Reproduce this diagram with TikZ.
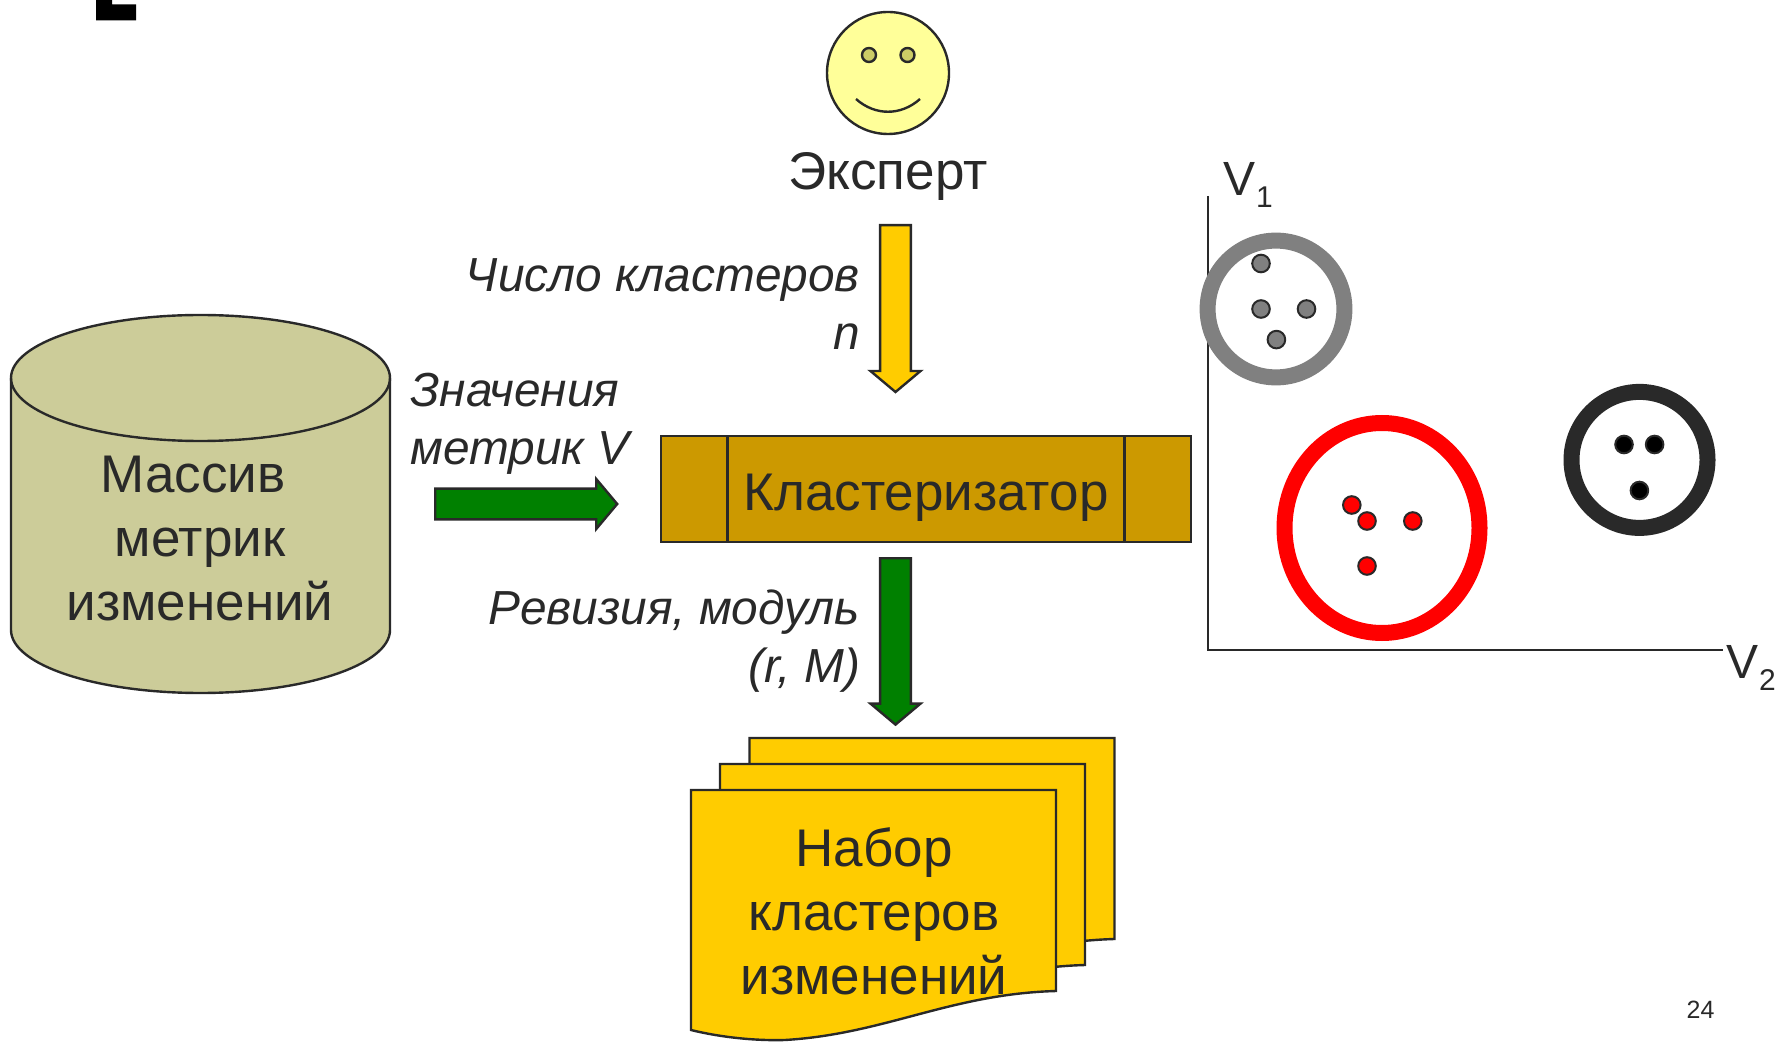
\documentclass[tikz,border=0pt]{standalone}
\usepackage{fontspec}
\setmainfont{Liberation Sans}
\usetikzlibrary{shapes.geometric,shapes.arrows}
\definecolor{inkdark}{RGB}{41,41,41}
\definecolor{dbolive}{RGB}{204,204,153}
\definecolor{faceyellow}{RGB}{255,255,153}
\definecolor{eyeolive}{RGB}{204,204,102}
\definecolor{boxbrown}{RGB}{204,153,0}
\definecolor{sheetyellow}{RGB}{255,204,0}
\definecolor{arrowgreen}{RGB}{0,128,0}
\definecolor{ringgray}{RGB}{128,128,128}
\newcommand{\sheetpath}{(691,790) -- (1056,790) -- (1056,991) .. controls (950,994) and (885,1034) .. (785,1040) .. controls (750,1041) and (715,1036) .. (691,1030) -- cycle}
\begin{document}
\begin{tikzpicture}[x=0.5pt,y=-0.5pt,
    every node/.style={text=inkdark,font=\fontsize{26.5}{32}\selectfont},
    outline/.style={draw=inkdark,line width=1.2pt},
    sheet/.style={outline,fill=sheetyellow},
    label/.style={font=\fontsize{23.9}{29}\selectfont\itshape},
    blockarrow/.style={outline,single arrow,anchor=tail,inner xsep=0pt,inner ysep=6.8pt,single arrow head indent=0pt,
        minimum width=25pt,single arrow head extend=4.6pt,single arrow tip angle=100,fill=#1},
    ring/.style={ellipse,draw=#1,line width=8pt,inner sep=0pt},
    dot/.style={circle,draw=inkdark,line width=1pt,inner sep=0pt,minimum size=8.8pt,fill=#1},
    axislabel/.style={font=\fontsize{24}{28}\selectfont,anchor=base west}]

    \useasboundingbox (0,0) rectangle (1787,1042);

    % Corner mark cut by the page
    \fill[black] (96,0) -- (112,0) -- (112,4.5) -- (136,4.5) -- (136,20.5) -- (96,20.5) -- cycle;

    % Expert
    \node[ellipse,outline,fill=faceyellow,minimum width=61pt,minimum height=61pt,inner sep=0pt] (face) at (888,73) {};
    \node[ellipse,outline,fill=eyeolive,minimum size=7pt,inner sep=0pt] (eyeL) at (869,55) {};
    \node[ellipse,outline,fill=eyeolive,minimum size=7pt,inner sep=0pt] (eyeR) at (907.5,55) {};
    \draw[outline] (856,99) .. controls (875,116) and (901,116) .. (920,99);
    \node[anchor=base] (expert) at (888,190) {Эксперт};

    % Metric store
    \draw[outline,fill=dbolive] (11,378) arc[start angle=180,end angle=360,x radius=189.5,y radius=63]
        -- (390,630) arc[start angle=0,end angle=180,x radius=189.5,y radius=63] -- cycle;
    \draw[outline] (11,378) arc[start angle=180,end angle=0,x radius=189.5,y radius=63];
    \node[align=center] (storetext) at (200,539) {Массив\kern7pt\\метрик\\изменений};

    % Clusterer
    \node[outline,fill=boxbrown,minimum width=265pt,minimum height=53pt,inner sep=0pt] (clust) at (926,489) {};
    \node[anchor=base] (clusttext) at (926,510) {Кластеризатор};
    \draw[outline] (727.6,436) -- (727.6,542);
    \draw[outline] (1124.6,436) -- (1124.6,542);

    % Block arrows and their labels
    \node[blockarrow=sheetyellow,rotate=-90,minimum height=83.4pt] (numarrow) at (895.5,224) {};
    \node[blockarrow=arrowgreen,minimum height=91pt] (valarrow) at (434,504) {};
    \node[blockarrow=arrowgreen,rotate=-90,minimum height=83.2pt] (revarrow) at (895.5,557) {};
    \node[label,align=right,anchor=north east] (numtext) at (867,252) {Число кластеров\\n};
    \node[label,align=left,anchor=north west] (valtext) at (403.5,366.5) {Значения\\метрик V};
    \node[label,align=right,anchor=north east] (revtext) at (867,583) {Ревизия, модуль\\(r, M)};

    % Cluster sheets
    \draw[sheet,shift={(58.5,-52)}] \sheetpath;
    \draw[sheet,shift={(29,-26)}] \sheetpath;
    \draw[sheet] \sheetpath;
    \node[align=center] (sheettext) at (874,911) {Набор\\кластеров\\изменений};

    % Axes
    \coordinate (origin) at (1208,650);
    \coordinate (v1end) at (1208,196);
    \coordinate (v2end) at (1723,650);
    \draw[draw=inkdark,line width=1.3pt] (v1end) -- (origin) -- (v2end);
    \node[axislabel] (v1) at (1216,196) {V\raisebox{-6pt}{\fontsize{15}{15}\selectfont\kern0.5pt 1}};
    \node[axislabel] (v2) at (1719,678) {V\raisebox{-6pt}{\fontsize{15}{15}\selectfont\kern0.5pt 2}};

    % Clusters
    \node[ring=ringgray,minimum width=68.4pt,minimum height=68.4pt] (rgray) at (1276,309) {};
    \node[dot=ringgray] (g1) at (1261,263.5) {};
    \node[dot=ringgray] (g2) at (1261,309) {};
    \node[dot=ringgray] (g3) at (1306.5,309) {};
    \node[dot=ringgray] (g4) at (1276.4,339.6) {};

    \node[ring=red,minimum width=97.5pt,minimum height=105pt] (rred) at (1382,528) {};
    \node[dot=red] (r1) at (1351.8,505) {};
    \node[dot=red] (r2) at (1367,521) {};
    \node[dot=red] (r3) at (1412.8,521) {};
    \node[dot=red] (r4) at (1367,566) {};

    \node[ring=inkdark,minimum width=68pt,minimum height=68pt] (rblack) at (1639.5,459.9) {};
    \node[dot=black] (b1) at (1624,444.5) {};
    \node[dot=black] (b2) at (1654.6,444.5) {};
    \node[dot=black] (b3) at (1639.4,490.5) {};

    % Slide number
    \node[font=\fontsize{12.5}{15}\selectfont] (pagenum) at (1700.5,1009.6) {24};

\end{tikzpicture}
\end{document}
